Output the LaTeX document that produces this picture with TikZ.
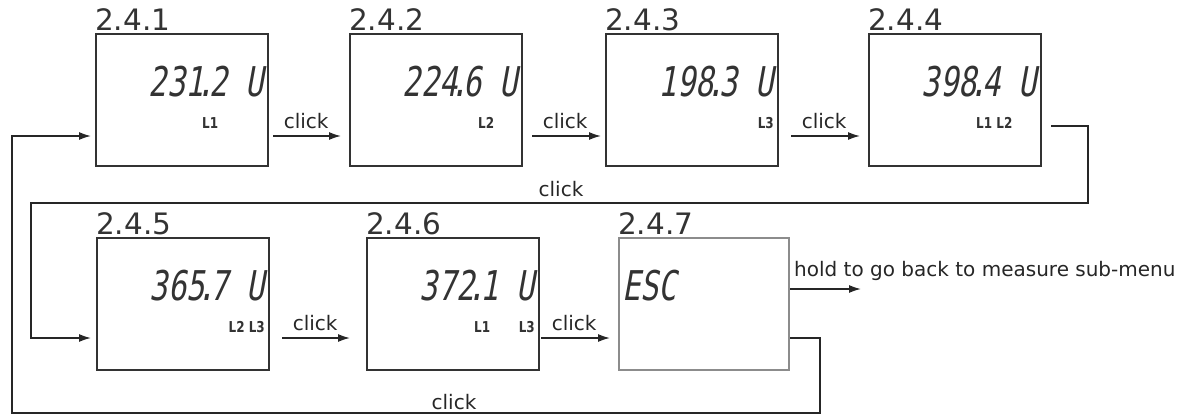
\documentclass[tikz,border=0pt]{standalone}
\usepackage{fontspec}
\setmainfont{DejaVu Sans}
\newfontfamily\lcdfont[FakeSlant=0.18,FakeStretch=0.74]{DejaVu Sans Mono}
\newfontfamily\phfont[FakeStretch=0.8]{DejaVu Sans}
\usetikzlibrary{arrows.meta,calc}
\newcommand\lcdpt{\kern-7pt.\kern-6pt}
\begin{document}
\begin{tikzpicture}[x=1pt,y=-1pt,
  lcdbox/.style={draw=black!80,line width=2pt,minimum width=172pt,minimum height=132pt,inner sep=0pt},
  title/.style={font=\fontsize{29.5}{34}\selectfont,text=black!80,inner sep=0pt,anchor=base west},
  lcd/.style={font=\lcdfont\fontsize{41}{46}\selectfont,text=black!80,inner sep=0pt},
  ph/.style={font=\phfont\bfseries\fontsize{15}{17}\selectfont,text=black!80,inner sep=0pt},
  lbl/.style={font=\fontsize{20}{24}\selectfont,text=black!85,inner sep=0pt},
  arr/.style={draw=black!85,line width=1.5pt,-{Latex[length=12pt,width=8pt]}},
  arrlbl/.style={lbl,pos=0,anchor=base west,xshift=10pt,yshift=8pt}]
\useasboundingbox (0,0) rectangle (1190,415);

% boxes
\node[lcdbox] (b1) at (182,100) {};
\node[lcdbox] (b2) at (436,100) {};
\node[lcdbox] (b3) at (692,100) {};
\node[lcdbox] (b4) at (955,100) {};
\node[lcdbox] (b5) at (183,304) {};
\node[lcdbox] (b6) at (453,304) {};
\node[lcdbox,draw=black!45,minimum width=170pt] (b7) at (704,304) {};

% titles
\node[title] (t1) at ($(b1.north west)+(0,-3)$) {2.4.1};
\node[title] (t2) at ($(b2.north west)+(0,-3)$) {2.4.2};
\node[title] (t3) at ($(b3.north west)+(0,-3)$) {2.4.3};
\node[title] (t4) at ($(b4.north west)+(0,-3)$) {2.4.4};
\node[title] (t5) at ($(b5.north west)+(0,-3)$) {2.4.5};
\node[title] (t6) at ($(b6.north west)+(0,-3)$) {2.4.6};
\node[title] (t7) at ($(b7.north west)+(0,-3)$) {2.4.7};

% readings
\node[lcd,anchor=base east] (v1) at ($(b1.north east)+(-5,63)$) {231\lcdpt2 U};
\node[lcd,anchor=base east] (v2) at ($(b2.north east)+(-5,63)$) {224\lcdpt6 U};
\node[lcd,anchor=base east] (v3) at ($(b3.north east)+(-5,63)$) {198\lcdpt3 U};
\node[lcd,anchor=base east] (v4) at ($(b4.north east)+(-5,63)$) {398\lcdpt4 U};
\node[lcd,anchor=base east] (v5) at ($(b5.north east)+(-5,63)$) {365\lcdpt7 U};
\node[lcd,anchor=base east] (v6) at ($(b6.north east)+(-5,63)$) {372\lcdpt1 U};
\node[lcd,anchor=base west] (v7) at ($(b7.north west)+(4,63)$) {ESC};

% phase indicators
\node[ph,anchor=base west] (p1) at ($(b1.north west)+(107,95)$) {L1};
\node[ph,anchor=base west] (p2) at ($(b2.north west)+(129,95)$) {L2};
\node[ph,anchor=base east] (p3) at ($(b3.north east)+(-5,95)$) {L3};
\node[ph,anchor=base west] (p4) at ($(b4.north west)+(108,95)$) {L1 L2};
\node[ph,anchor=base east] (p5) at ($(b5.north east)+(-5,95)$) {L2 L3};
\node[ph,anchor=base west] (p6a) at ($(b6.north west)+(108,95)$) {L1};
\node[ph,anchor=base east] (p6b) at ($(b6.north east)+(-5,95)$) {L3};

% straight transitions
\draw[arr] ($(b1.east)+(4,36)$) -- ($(b2.west)+(-8,36)$) node[arrlbl] {click};
\draw[arr] ($(b2.east)+(9,36)$) -- ($(b3.west)+(-4,36)$) node[arrlbl] {click};
\draw[arr] ($(b3.east)+(12,36)$) -- ($(b4.west)+(-8,36)$) node[arrlbl] {click};
\draw[arr] ($(b5.east)+(12,34)$) -- ($(b6.west)+(-16,34)$) node[arrlbl] {click};
\draw[arr] ($(b6.east)+(1,34)$) -- ($(b7.west)+(-8,34)$) node[arrlbl] {click};

% loop row 1 -> row 2
\coordinate (c1) at (1088,203);
\coordinate (c2) at (31,203);
\draw[arr] ($(b4.east)+(9,26)$) -| (c1) -- (c2) |- ($(b5.west)+(-5,34)$);
\node[lbl,anchor=base] (k1) at (561,196) {click};

% loop back to start
\coordinate (c3) at (820,413);
\coordinate (c4) at (12,413);
\draw[arr] ($(b7.east)+(0,34)$) -| (c3) -- (c4) |- ($(b1.west)+(-4,36)$);
\node[lbl,anchor=base] (k2) at (454,409) {click};

% exit
\draw[arr] ($(b7.east)+(0,-15)$) -- ++(71,0) coordinate (ex);
\node[lbl,anchor=base west] (h) at ($(b7.east)+(4,-28)$) {hold to go back to measure sub-menu};
\end{tikzpicture}
\end{document}
